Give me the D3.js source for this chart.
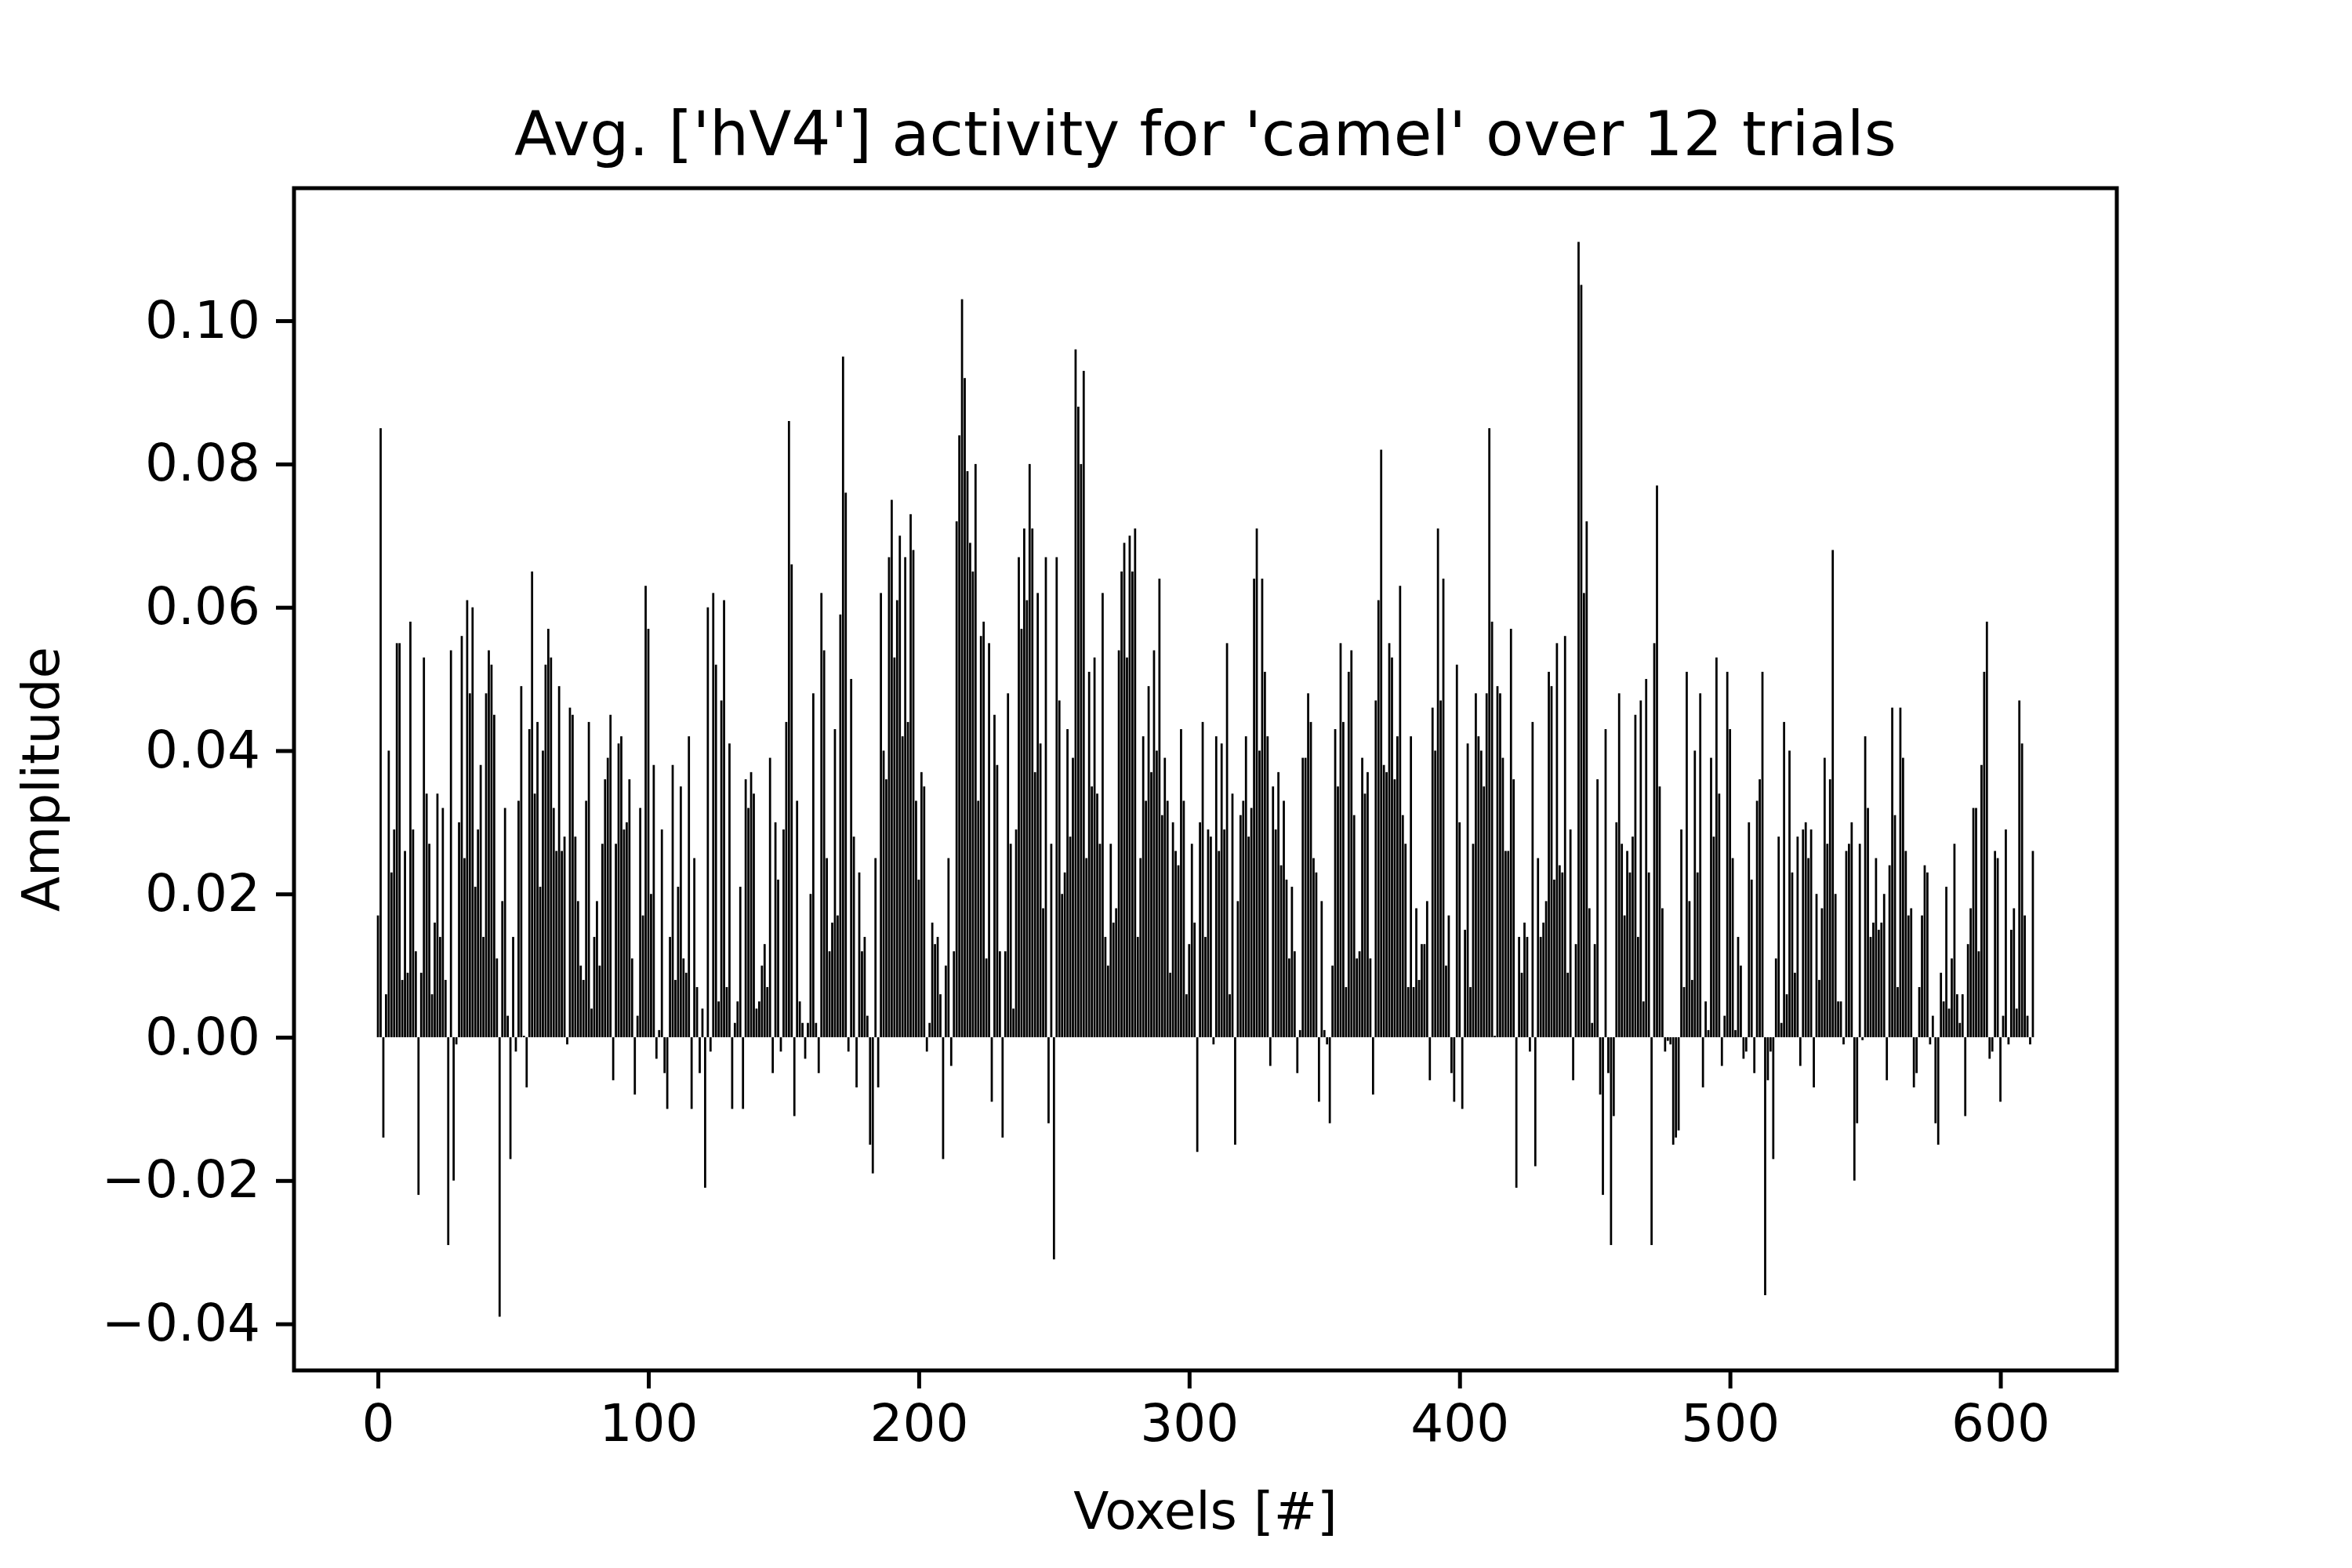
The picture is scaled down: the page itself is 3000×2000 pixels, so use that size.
<!DOCTYPE html>
<html lang="en">
<head>
  <meta charset="UTF-8">
  <title>Avg. hV4 activity</title>
  <script src="https://d3js.org/d3.v7.min.js"></script>
  <style>
    body { margin: 0; background: #fff; }
    text { font-family: "DejaVu Sans", sans-serif; fill: #000; }
  </style>
</head>
<body>
  <script>
    // average amplitude per voxel (voxels 0..612)
    const amplitudes = [
      0.017,
      0.085,-0.014,0.006,0.040,0.023,0.029,0.055,0.055,0.008,0.026,
      0.009,0.058,0.029,0.012,-0.022,0.009,0.053,0.034,0.027,0.006,
      0.016,0.034,0.014,0.032,0.008,-0.029,0.054,-0.020,-0.001,0.030,
      0.056,0.025,0.061,0.048,0.060,0.021,0.029,0.038,0.014,0.048,
      0.054,0.052,0.045,0.011,-0.039,0.019,0.032,0.003,-0.017,0.014,
      -0.002,0.033,0.049,0.0002,-0.007,0.043,0.065,0.034,0.044,0.021,
      0.040,0.052,0.057,0.053,0.032,0.026,0.049,0.026,0.028,-0.001,
      0.046,0.045,0.028,0.019,0.010,0.008,0.033,0.044,0.004,0.014,
      0.019,0.010,0.027,0.036,0.039,0.045,-0.006,0.027,0.041,0.042,
      0.029,0.030,0.036,0.011,-0.008,0.003,0.032,0.017,0.063,0.057,
      0.020,0.038,-0.003,0.001,0.029,-0.005,-0.010,0.014,0.038,0.008,
      0.021,0.035,0.011,0.009,0.042,-0.010,0.025,0.007,-0.005,0.004,
      -0.021,0.060,-0.002,0.062,0.052,0.005,0.047,0.061,0.007,0.041,
      -0.010,0.002,0.005,0.021,-0.010,0.036,0.032,0.037,0.034,0.004,
      0.005,0.010,0.013,0.007,0.039,-0.005,0.030,0.022,-0.002,0.029,
      0.044,0.086,0.066,-0.011,0.033,0.005,0.002,-0.003,0.002,0.020,
      0.048,0.002,-0.005,0.062,0.054,0.025,0.012,0.016,0.043,0.017,
      0.059,0.095,0.076,-0.002,0.050,0.028,-0.007,0.023,0.012,0.014,
      0.003,-0.015,-0.019,0.025,-0.007,0.062,0.040,0.036,0.067,0.075,
      0.053,0.061,0.070,0.042,0.067,0.044,0.073,0.068,0.033,0.022,
      0.037,0.035,-0.002,0.002,0.016,0.013,0.014,0.006,-0.017,0.010,
      0.025,-0.004,0.012,0.072,0.084,0.103,0.092,0.079,0.069,0.065,
      0.080,0.033,0.056,0.058,0.011,0.055,-0.009,0.045,0.038,0.012,
      -0.014,0.012,0.048,0.027,0.004,0.029,0.067,0.057,0.071,0.061,
      0.080,0.071,0.037,0.062,0.041,0.018,0.067,-0.012,0.027,-0.031,
      0.067,0.047,0.020,0.023,0.043,0.028,0.039,0.096,0.088,0.080,
      0.093,0.025,0.051,0.035,0.053,0.034,0.027,0.062,0.014,0.010,
      0.027,0.016,0.018,0.054,0.065,0.069,0.053,0.070,0.065,0.071,
      0.014,0.025,0.042,0.033,0.049,0.037,0.054,0.040,0.064,0.031,
      0.039,0.033,0.009,0.030,0.026,0.024,0.043,0.033,0.006,0.013,
      0.027,0.016,-0.016,0.030,0.044,0.014,0.029,0.028,-0.001,0.042,
      0.026,0.041,0.029,0.055,0.006,0.034,-0.015,0.019,0.031,0.033,
      0.042,0.028,0.032,0.064,0.071,0.040,0.064,0.051,0.042,-0.004,
      0.035,0.029,0.037,0.024,0.033,0.022,0.011,0.021,0.012,-0.005,
      0.001,0.039,0.039,0.048,0.044,0.025,0.023,-0.009,0.019,0.001,
      -0.001,-0.012,0.010,0.043,0.035,0.055,0.044,0.007,0.051,0.054,
      0.031,0.011,0.012,0.039,0.034,0.037,0.011,-0.008,0.047,0.061,
      0.082,0.038,0.037,0.055,0.053,0.036,0.042,0.063,0.031,0.027,
      0.007,0.042,0.007,0.018,0.008,0.013,0.013,0.019,-0.006,0.046,
      0.040,0.071,0.047,0.064,0.010,0.017,-0.005,-0.009,0.052,0.030,
      -0.010,0.015,0.041,0.007,0.027,0.048,0.042,0.040,0.035,0.048,
      0.085,0.058,0.0002,0.049,0.048,0.039,0.026,0.026,0.057,0.036,
      -0.021,0.014,0.009,0.016,0.014,-0.002,0.044,-0.018,0.025,0.014,
      0.016,0.019,0.051,0.049,0.022,0.055,0.024,0.023,0.056,0.009,
      0.029,-0.006,0.013,0.111,0.105,0.062,0.072,0.018,0.002,0.013,
      0.036,-0.008,-0.022,0.043,-0.005,-0.029,-0.011,0.030,0.048,0.027,
      0.017,0.026,0.023,0.028,0.045,0.014,0.047,0.005,0.050,0.023,
      -0.029,0.055,0.077,0.035,0.018,-0.002,-0.0005,-0.001,-0.015,-0.014,
      -0.013,0.029,0.007,0.051,0.019,0.008,0.040,0.023,0.048,-0.007,
      0.005,0.001,0.039,0.028,0.053,0.034,-0.004,0.003,0.051,0.043,
      0.025,0.001,0.014,0.010,-0.003,-0.002,0.030,0.022,-0.005,0.033,
      0.036,0.051,-0.036,-0.006,-0.002,-0.017,0.011,0.028,0.002,0.044,
      0.006,0.040,0.023,0.009,0.028,-0.004,0.029,0.030,0.025,0.029,
      -0.007,0.020,0.008,0.018,0.039,0.027,0.036,0.068,0.020,0.005,
      0.005,-0.001,0.026,0.027,0.030,-0.020,-0.012,0.027,-0.0004,0.042,
      0.032,0.014,0.016,0.025,0.015,0.016,0.020,-0.006,0.024,0.046,
      0.031,0.007,0.046,0.039,0.026,0.017,0.018,-0.007,-0.005,0.007,
      0.017,0.024,0.023,-0.001,0.003,-0.012,-0.015,0.009,0.005,0.021,
      0.004,0.011,0.027,0.006,0.002,0.006,-0.011,0.013,0.018,0.032,
      0.032,0.012,0.038,0.051,0.058,-0.003,-0.002,0.026,0.025,-0.009,
      0.003,0.029,-0.001,0.015,0.018,0.004,0.047,0.041,0.017,0.003,
      -0.001,0.026
    ];
    const xTicks = [0, 100, 200, 300, 400, 500, 600];
    const yTicks = [-0.04, -0.02, 0.00, 0.02, 0.04, 0.06, 0.08, 0.10];

    const w = 3000, h = 2000;
    const pLeft = 375, pRight = 2700, pTop = 240, pBottom = 1748;
    const fs = 66;

    const xScale = d3.scaleLinear().domain([-31.04, 643.04]).range([pLeft, pRight]);
    const yScale = d3.scaleLinear().domain([-0.0465, 0.1185]).range([pBottom, pTop]);

    const svg = d3.select('body').append('svg')
      .attr('width', w).attr('height', h);

    // bars
    const bw = xScale(0.8) - xScale(0);
    svg.append('g').selectAll('rect')
      .data(amplitudes)
      .enter()
      .append('rect')
      .attr('x', (d, i) => xScale(i - 0.4))
      .attr('width', bw)
      .attr('y', d => yScale(Math.max(0, d)))
      .attr('height', d => Math.abs(yScale(d) - yScale(0)))
      .attr('fill', '#000');

    // axes
    const xAxis = svg.append('g')
      .attr('transform', `translate(0,${pBottom})`)
      .call(d3.axisBottom(xScale).tickValues(xTicks).tickFormat(d3.format('d'))
        .tickSize(23).tickPadding(20));
    const yAxis = svg.append('g')
      .attr('transform', `translate(${pLeft},0)`)
      .call(d3.axisLeft(yScale).tickValues(yTicks).tickFormat(d3.format('.2f'))
        .tickSize(23).tickPadding(20));
    [xAxis, yAxis].forEach(a => {
      a.select('.domain').remove();
      a.selectAll('line').attr('stroke', '#000').attr('stroke-width', 5);
      a.selectAll('text').attr('font-size', fs).attr('font-family', '"DejaVu Sans", sans-serif');
    });

    // frame
    svg.append('rect')
      .attr('x', pLeft).attr('y', pTop)
      .attr('width', pRight - pLeft).attr('height', pBottom - pTop)
      .attr('fill', 'none').attr('stroke', '#000').attr('stroke-width', 5);

    // labels
    svg.append('text')
      .attr('x', (pLeft + pRight) / 2).attr('y', 198)
      .attr('text-anchor', 'middle').attr('font-size', 79)
      .text("Avg. ['hV4'] activity for 'camel' over 12 trials");
    svg.append('text')
      .attr('x', (pLeft + pRight) / 2).attr('y', 1950)
      .attr('text-anchor', 'middle').attr('font-size', fs)
      .text('Voxels [#]');
    svg.append('text')
      .attr('transform', `translate(75,${(pTop + pBottom) / 2}) rotate(-90)`)
      .attr('text-anchor', 'middle').attr('font-size', fs)
      .text('Amplitude');
  </script>
</body>
</html>
